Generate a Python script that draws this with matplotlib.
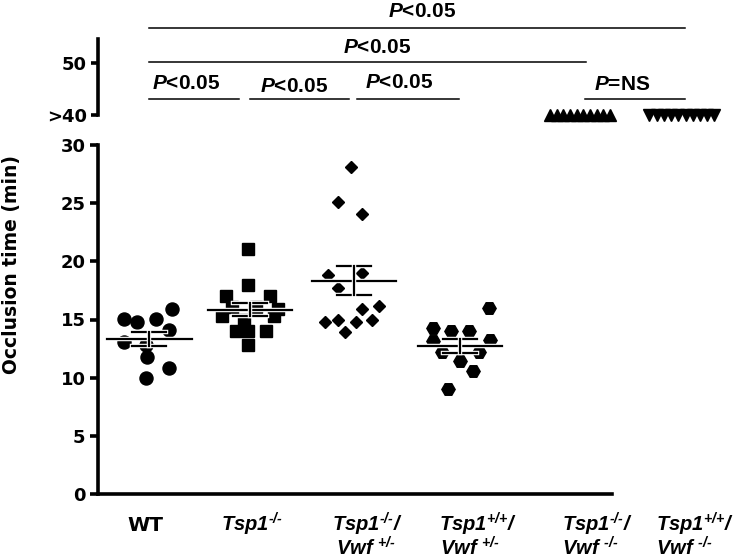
import numpy as np
import matplotlib
matplotlib.use('Agg')
import matplotlib.pyplot as plt
import matplotlib.patheffects as pe
from matplotlib.transforms import blended_transform_factory

plt.rcParams['font.family'] = 'DejaVu Sans'
plt.rcParams['font.weight'] = 'bold'
plt.rcParams['mathtext.fontset'] = 'custom'
plt.rcParams['mathtext.rm'] = 'Liberation Sans:italic:bold'
plt.rcParams['mathtext.it'] = 'Liberation Sans:italic:bold'
plt.rcParams['mathtext.bf'] = 'Liberation Sans:bold'

# occlusion times (min)
wt = [15.9, 15.05, 14.76, 15.05, 14.1, 13.1, 12.8, 11.8, 10.8, 10.0]
tsp_ko = [21.1, 18.0, 17.0, 17.0, 16.1, 16.1, 15.9, 15.3, 15.3, 15.0, 14.0, 14.0, 14.0, 12.8]
tsp_ko_vwf_het = [28.1, 25.1, 24.05, 18.8, 19.0, 17.7, 15.9, 16.2, 15.0, 14.8, 15.0, 14.8, 13.95]
tsp_wt_vwf_het = [15.95, 14.3, 14.0, 14.0, 13.15, 13.25, 12.2, 12.2, 11.45, 10.6, 9.05]
# Vwf-/- mice never occluded: plotted as ">40"
tsp_ko_vwf_ko = [40] * 10
tsp_wt_vwf_ko = [40] * 10

# horizontal scatter of the points inside each column (pixels)
wt_dx = [23, -25, -12, 7, 20, -25, -3, -2, 20, -3]
tsp_ko_dx = [-2, -2, -24, 20, -18, 6, 28, -28, 24, -6, -14, -2, 16, -2]
tsp_ko_vwf_het_dx = [-3, -16, 8, -26, 8, -16, 8, 25, 18, 2, -16, -29, -9]
tsp_wt_vwf_het_dx = [29, -27, -9, 9, -27, 30, -18, 19, 0, 13, -12]

label_line1 = ['WT', r'Tsp1$^{\text{-/-}}$', r'Tsp1$^{\text{-/-}}$/', r'Tsp1$^{\text{+/+}}$/',
               r'Tsp1$^{\text{-/-}}$/', r'Tsp1$^{\text{+/+}}$/']
label_line2 = ['', '', r'Vwf $^{\text{+/-}}$', r'Vwf $^{\text{+/-}}$',
               r'Vwf $^{\text{-/-}}$', r'Vwf $^{\text{-/-}}$']

# comparisons: x from, x to, line level, text x, text level
comparisons = [
    (0.5, 5.71, 56.55, 3.15, 58.65, 'P<0.05'),
    (0.5, 4.75, 50.17, 2.71, 51.89, 'P<0.05'),
    (0.5, 1.37, 43.11, 0.86, 44.96, 'P<0.05'),
    (1.48, 2.44, 43.11, 1.91, 44.45, 'P<0.05'),
    (2.52, 3.51, 43.11, 2.93, 45.1, 'P<0.05'),
    (4.74, 5.71, 43.11, 5.10, 44.77, 'P=NS'),
]

ppu = 102.8  # pixels per x unit
pos = [0.5, 1.48, 2.49, 3.52, 4.69, 5.68]

fig = plt.figure(figsize=(7.52, 5.6), dpi=100)
ax = fig.add_axes([98/752, 1-494/560, 514/752, 349/560])
ax_top = fig.add_axes([98/752, 1-115/560, 642/752, 115/560])
ax_top.patch.set_visible(False)

ax.set_xlim(0, 514/ppu)
ax.set_ylim(0, 30)
ax_top.set_xlim(0, 642/ppu)
ax_top.set_ylim(40, 40 + 115/5.24)

outline = [pe.Stroke(linewidth=3.2, foreground='white'), pe.Normal()]


def mean_sem(a, x, vals):
    vals = np.array(vals)
    m = vals.mean()
    s = vals.std(ddof=1) / np.sqrt(len(vals))
    kw = dict(color='black', lw=1.6, path_effects=outline, zorder=4)
    a.plot([x-0.41, x+0.41], [m, m], **kw)
    a.plot([x-0.165, x+0.165], [m+s, m+s], **kw)
    a.plot([x-0.165, x+0.165], [m-s, m-s], **kw)
    a.plot([x, x], [m-s, m+s], **kw)


groups = [(wt, wt_dx, 'o', 9.4), (tsp_ko, tsp_ko_dx, 's', 8.6),
          (tsp_ko_vwf_het, tsp_ko_vwf_het_dx, 'D', 6.4),
          (tsp_wt_vwf_het, tsp_wt_vwf_het_dx, 'H', 9.6)]
for i, (vals, dx, mk, ms) in enumerate(groups):
    xs = pos[i] + np.array(dx) / ppu
    ax.plot(xs, vals, ls='none', marker=mk, ms=ms, color='black', clip_on=False, zorder=3)
    mean_sem(ax, pos[i], vals)

ax_top.plot(pos[4] + np.linspace(-30, 30, len(tsp_ko_vwf_ko)) / ppu, tsp_ko_vwf_ko,
            ls='none', marker='^', ms=9, color='black', clip_on=False)
ax_top.plot(pos[5] + np.linspace(-32.5, 32.5, len(tsp_wt_vwf_ko)) / ppu, tsp_wt_vwf_ko,
            ls='none', marker='v', ms=9, color='black', clip_on=False)

for x0, x1, yl, xt, yt, txt in comparisons:
    ax_top.plot([x0, x1], [yl, yl], color='black', lw=1.1, clip_on=False)
    head, tail = txt[0], txt[1:]
    ax_top.text(xt, yt, '$' + head + '$' + tail, ha='center', va='baseline',
                fontsize=15, family='Liberation Sans', fontweight='bold')

# axes styling
for s in ['top', 'right']:
    ax.spines[s].set_visible(False)
ax.spines['left'].set_linewidth(2.6)
ax.spines['bottom'].set_linewidth(2.6)
ax.set_yticks([0, 5, 10, 15, 20, 25, 30])
ax.set_xticks([])
ax.tick_params(axis='y', length=6, width=2.6, pad=3, labelsize=13)

for s in ['top', 'right', 'bottom']:
    ax_top.spines[s].set_visible(False)
ax_top.spines['left'].set_linewidth(2.6)
ax_top.spines['left'].set_bounds(40, 54.5)
ax_top.set_xticks([])
ax_top.set_yticks([40, 50])
ax_top.set_yticklabels(['>40', '50'])
ax_top.tick_params(axis='y', length=5, width=2.6, pad=3, labelsize=13)

fig.text(12/752, 1-264.5/560, 'Occlusion time (min)', rotation=90, ha='center', va='center',
         fontsize=13.5)

trans = blended_transform_factory(ax.transData, fig.transFigure)
left1 = [127, 221, 332, 439, 562, 656]
left2 = [0, 0, 336, 440, 562, 656]
for i in range(6):
    st = 'normal' if i == 0 else 'italic'
    fam = 'DejaVu Sans' if i == 0 else 'Liberation Sans'
    ax.text((left1[i]-98)/ppu, 1-531/560, label_line1[i], transform=trans, ha='left',
            va='baseline', fontsize=14.5, fontstyle=st, family=fam, clip_on=False)
    if label_line2[i]:
        ax.text((left2[i]-98)/ppu, 1-555/560, label_line2[i], transform=trans, ha='left',
                va='baseline', fontsize=14.5, fontstyle=st, family=fam, clip_on=False)

fig.savefig('out.png', dpi=100)
